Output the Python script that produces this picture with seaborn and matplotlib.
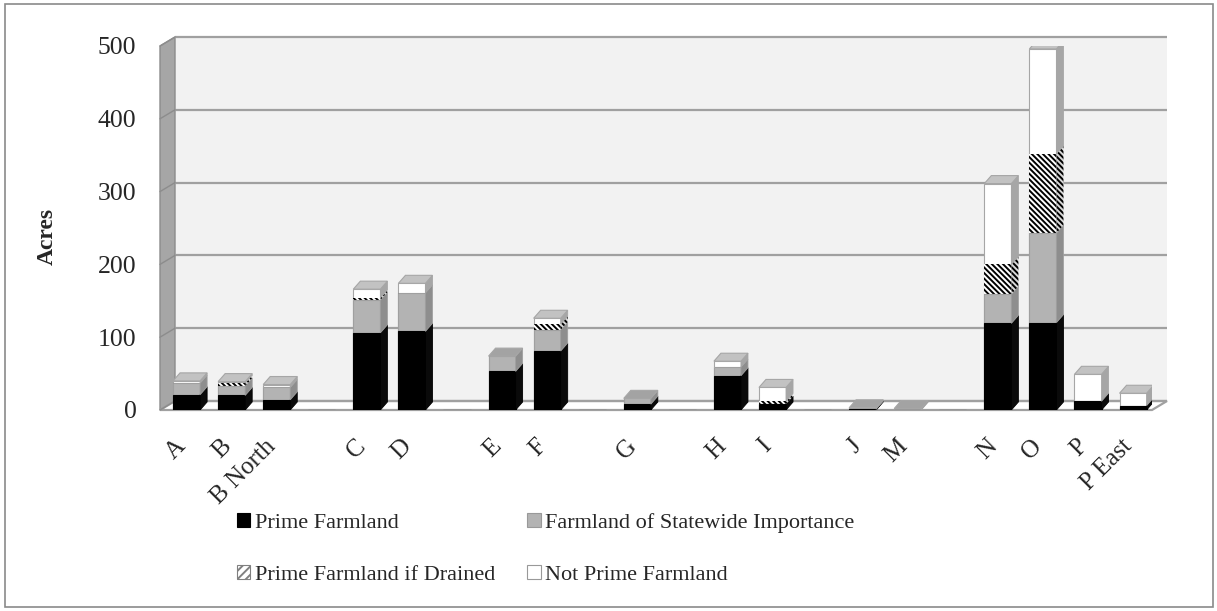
import matplotlib
matplotlib.use("Agg")
import matplotlib.pyplot as plt
import matplotlib.transforms as mtransforms
from matplotlib.patches import Polygon, Rectangle, Patch
import numpy as np
import seaborn as sns

# Sites (blank entries are spacer slots between site groups)
categories = ["A", "B", "B North", " ", "C", "D", "  ", "E", "F", "   ", "G", "    ",
              "H", "I", "     ", "J", "M", "      ", "N", "O", "P", "P East"]

# Acres by farmland class
prime = [21, 20, 14, 0, 106, 108, 0, 53, 81, 0, 8, 0, 47, 8, 0, 1, 0, 0, 119, 120, 12, 6]
statewide = [16, 13, 17, 0, 45, 53, 0, 21, 29, 0, 8, 0, 12, 0, 0, 2, 2, 0, 40, 123, 0, 0]
drained = [0, 4, 0, 0, 3, 0, 0, 0, 8, 0, 0, 0, 0, 4, 0, 0, 0, 0, 41, 109, 0, 0]
not_prime = [3, 2, 4, 0, 12, 13, 0, 0, 8, 0, 0, 0, 8, 19, 0, 0, 0, 0, 111, 144, 37, 17]

series_names = ["Prime Farmland", "Farmland of Statewide Importance",
                "Prime Farmland if Drained", "Not Prime Farmland"]
y_ticks = [0, 100, 200, 300, 400, 500]

sns.set_theme(style="white")
plt.rcParams["font.family"] = ["Liberation Serif", "DejaVu Serif"]
plt.rcParams["hatch.linewidth"] = 1.4
plt.rcParams["hatch.color"] = "black"

W, H, DPI = 1217, 611, 100
fig = plt.figure(figsize=(W / DPI, H / DPI), dpi=DPI)
ax = fig.add_axes([160 / W, 201 / H, 992 / W, 364 / H])
ax.set_facecolor("none")

# style per class: front, side, top colours, hatch, edge
HATCH = "\\\\\\\\\\\\"
styles = [
    dict(front="#000000", side="#0a0a0a", top="#2a2a2a", hatch="", edge="#000000"),
    dict(front="#b3b3b3", side="#8e8e8e", top="#a3a3a3", hatch="", edge="#a0a0a0"),
    dict(front="#ffffff", side="#d8d8d8", top="#e8e8e8", hatch=HATCH, edge="black"),
    dict(front="#ffffff", side="#a6a6a6", top="#c2c2c2", hatch="", edge="#a6a6a6"),
]

series = [prime, statewide, drained, not_prime]
tops = np.cumsum(np.array(series, dtype=float), axis=0)
bottoms = np.vstack([np.zeros(len(categories)), tops[:-1]])

# front faces: cumulative layers painted from the tallest down
for k in [3, 2, 1, 0]:
    st = styles[k]
    sns.barplot(x=categories, y=tops[k], color=st["front"], saturation=1, width=0.6,
                errorbar=None, ax=ax, zorder=3, hatch=st["hatch"] or None,
                edgecolor=st["edge"], linewidth=0 if st["hatch"] else 0.8)
front_patches = ax.patches[-len(categories):]

ax.set_xlim(-0.59, 21.42)
ax.set_ylim(0, 500)

# depth offsets for the bar bodies and the walls
p0 = ax.transData.transform((0, 0))
p1 = ax.transData.transform((1, 100))
ux = p1[0] - p0[0]
uy = (p1[1] - p0[1]) / 100
bdx, bdy = 7 / ux, 8 / uy
wdx, wdy = 15 / 992, 9 / 364

# back wall, left wall and floor
ax.add_patch(Rectangle((wdx, wdy), 1, 1, transform=ax.transAxes, facecolor="#f2f2f2",
                       edgecolor="none", clip_on=False, zorder=0.5))
ax.add_patch(Polygon([(0, 0), (wdx, wdy), (wdx, 1 + wdy), (0, 1)], closed=True,
                     transform=ax.transAxes, facecolor="#a6a6a6", edgecolor="#8c8c8c",
                     linewidth=1.0, clip_on=False, zorder=0.8))
ax.add_patch(Polygon([(0, 0), (1, 0), (1 + wdx, wdy), (wdx, wdy)], closed=True,
                     transform=ax.transAxes, facecolor="white", edgecolor="#a0a0a0",
                     linewidth=1.6, clip_on=False, zorder=0.9))
back = mtransforms.blended_transform_factory(ax.transAxes, ax.transData) + \
    mtransforms.ScaledTranslation(15 / DPI, 9 / DPI, fig.dpi_scale_trans)
for v in y_ticks:
    ax.plot([0, 1], [v, v], transform=back, color="#a0a0a0", lw=1.6,
            clip_on=False, zorder=1, solid_capstyle="butt")
    yf = ax.transAxes.inverted().transform(ax.transData.transform((0, v)))[1]
    ax.plot([0, wdx], [yf, yf + wdy], transform=ax.transAxes, color="#8c8c8c",
            lw=1.0, clip_on=False, zorder=1)

# side and top faces of each stacked segment
for j, patch in enumerate(front_patches):
    x0 = patch.get_x()
    w = patch.get_width()
    xr = x0 + w
    top_k = None
    for k in range(4):
        b, t = bottoms[k][j], tops[k][j]
        if t <= b:
            continue
        st = styles[k]
        hatched = bool(st["hatch"])
        ax.add_patch(Polygon([(xr, b), (xr + bdx, b + bdy), (xr + bdx, t + bdy), (xr, t)],
                             closed=True, facecolor=st["side"],
                             edgecolor="black" if hatched else st["edge"],
                             linewidth=0 if hatched else 0.6,
                             hatch=st["hatch"] or None, zorder=3))
        top_k = k
    if top_k is not None:
        st = styles[top_k]
        hatched = bool(st["hatch"])
        t = tops[top_k][j]
        ax.add_patch(Polygon([(x0, t), (xr, t), (xr + bdx, t + bdy), (x0 + bdx, t + bdy)],
                             closed=True, facecolor=st["top"],
                             edgecolor="black" if hatched else "#a6a6a6",
                             linewidth=0 if hatched else 0.8,
                             hatch=st["hatch"] or None, zorder=3))

# axes text
for s in ax.spines.values():
    s.set_visible(False)
ax.grid(False)
ax.set_xlabel("")
ax.set_ylabel("")
ax.set_yticks(y_ticks)
ax.set_yticklabels([str(v) for v in y_ticks], fontsize=18.5)
ax.tick_params(axis="y", length=0, pad=17)
ax.set_xticks(range(len(categories)))
ax.set_xticklabels(categories, rotation=45, ha="right", va="baseline",
                   rotation_mode="anchor", fontsize=18)
ax.tick_params(axis="x", length=0, pad=27)

fig.text(47 / W, 1 - 236 / H, "Acres", rotation=90, fontweight="bold", fontsize=17,
         ha="center", va="center")

# legend
handles = [
    Patch(facecolor="#000000", edgecolor="#000000", linewidth=0.8),
    Patch(facecolor="white", edgecolor="#808080", hatch="////", linewidth=0.8),
    Patch(facecolor="#b3b3b3", edgecolor="#999999", linewidth=0.8),
    Patch(facecolor="white", edgecolor="#999999", linewidth=0.8),
]
labels = [series_names[0], series_names[2], series_names[1], series_names[3]]
fig.legend(handles, labels, ncol=2, loc="upper left", bbox_to_anchor=(237 / W, 1 - 513 / H),
           frameon=False, fontsize=16, handlelength=0.6, handleheight=0.6,
           handletextpad=0.2, columnspacing=1.45, labelspacing=1.45, borderpad=0,
           borderaxespad=0)

# chart border
fig.patches.append(Rectangle((5 / W, 4 / H), 1208 / W, 603 / H, transform=fig.transFigure,
                             fill=False, edgecolor="#8a8a8a", linewidth=1.2))

fig.savefig("out.png", dpi=DPI)
